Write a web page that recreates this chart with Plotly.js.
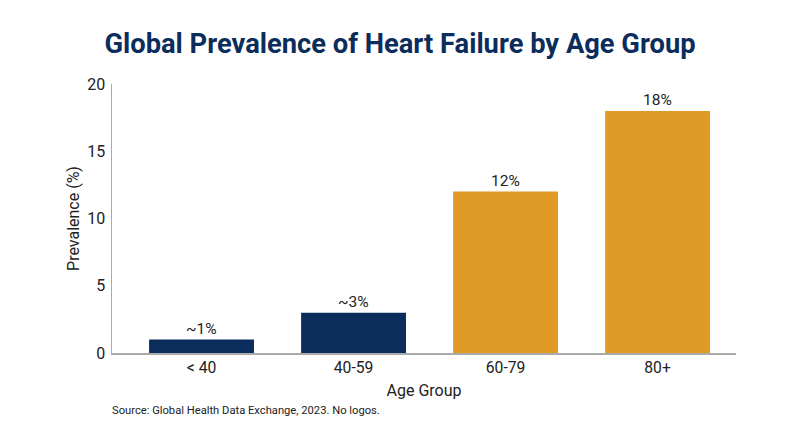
<!DOCTYPE html>
<html><head><meta charset="utf-8">
<script src="https://cdn.plot.ly/plotly-3.0.1.min.js"></script>
<style>html,body{margin:0;padding:0;background:#fff}</style></head>
<body><div id="chart" style="width:800px;height:447px"></div>
<script>
const categories = ["< 40","40-59","60-79","80+"];
const values = [1,3,12,18];
const barLabels = ["~1%","~3%","12%","18%"];
const barColors = ["#0b2d5c","#0b2d5c","#e09b27","#e09b27"];
const yTicks = [0,5,10,15,20];
const titleText = "Global Prevalence of Heart Failure by Age Group";
const sourceText = "Source: Global Health Data Exchange, 2023. No logos.";
const ff = "Roboto, sans-serif";
const labelNotes = categories.map((c,i)=>({xref:"x",yref:"y",x:c,y:values[i],text:barLabels[i],xanchor:"center",yanchor:"bottom",showarrow:false,font:{family:ff,size:15.5,color:"#222"}}));
Plotly.newPlot("chart",[{type:"bar",x:categories,y:values,marker:{color:barColors},width:0.69,hoverinfo:"x+y"}],{
 width:800,height:447,paper_bgcolor:"#fff",plot_bgcolor:"#fff",showlegend:false,
 margin:{l:112,r:64,t:83.5,b:93.5},
 title:{text:titleText,font:{family:ff,size:27.3,color:"#0b2d5c",weight:700},x:0.5,xanchor:"center",y:0.902,yanchor:"middle"},
 xaxis:{type:"category",range:[-0.589,3.516],title:{text:"Age Group",font:{family:ff,size:16,color:"#222"},standoff:8},tickfont:{family:ff,size:15.7,color:"#222"},showline:true,linecolor:"#aaa",linewidth:1.5,ticks:"",showgrid:false},
 yaxis:{range:[0,20],tickvals:yTicks,ticks:"outside",ticklen:2,tickcolor:"rgba(0,0,0,0)",title:{text:"Prevalence (%)",font:{family:ff,size:16,color:"#222"},standoff:3},tickfont:{family:ff,size:16,color:"#222"},showline:true,linecolor:"#aaa",linewidth:1.5,showgrid:false,zeroline:false},
 annotations:labelNotes.concat([{xref:"paper",yref:"paper",x:0,y:-0.214,xanchor:"left",yanchor:"middle",xshift:-2,showarrow:false,text:sourceText,font:{family:ff,size:11.2,color:"#222"}}])
},{displayModeBar:false,staticPlot:true});
</script></body></html>
